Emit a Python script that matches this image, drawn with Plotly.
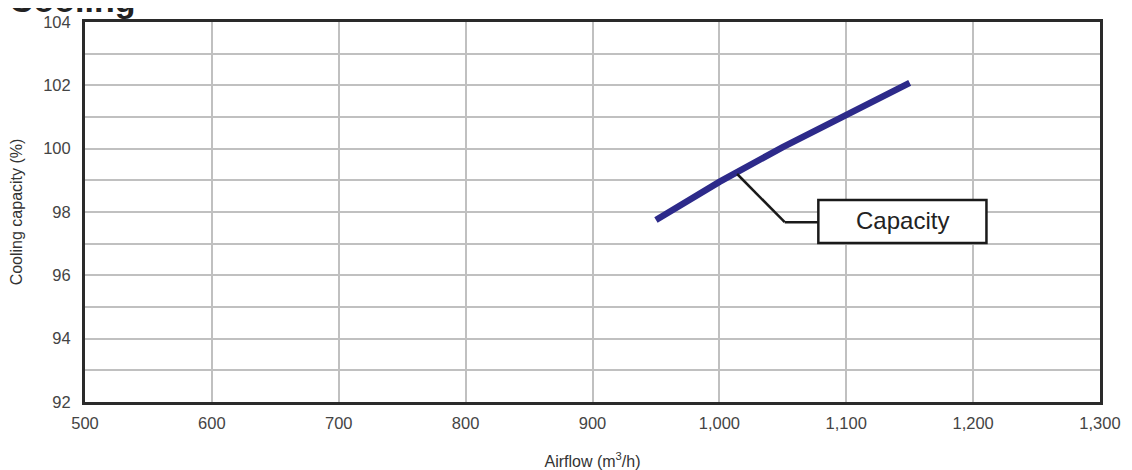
import plotly.graph_objects as go

# Data
airflow = [950, 1000, 1050, 1100, 1150]
capacity = [97.75, 98.95, 100.05, 101.08, 102.08]

x_ticks = [500, 600, 700, 800, 900, 1000, 1100, 1200, 1300]
y_ticks = [92, 94, 96, 98, 100, 102, 104]

series_label = "Capacity"
title_text = "Cooling"

FONT = "Liberation Sans, Arial, sans-serif"

fig = go.Figure()
fig.add_trace(go.Scatter(
    x=airflow, y=capacity, mode="lines",
    line=dict(color="#2d2a8a", width=6.5),
    showlegend=False, hoverinfo="skip",
))

# leader line from curve to label box
fig.add_shape(type="line", xref="x", yref="y", x0=1014, y0=99.2, x1=1051.5, y1=97.68,
              line=dict(color="#1a1a1a", width=2.5), layer="above")
fig.add_shape(type="line", xref="x", yref="y", x0=1051.5, y0=97.68, x1=1078, y1=97.68,
              line=dict(color="#1a1a1a", width=2.5), layer="above")
fig.add_shape(type="rect", xref="x", yref="y", x0=1078, y0=97.02, x1=1210.5, y1=98.38,
              line=dict(color="#1a1a1a", width=2.5), fillcolor="white", layer="above")
fig.add_annotation(x=1144, y=97.74, xref="x", yref="y", text=series_label, showarrow=False,
                   font=dict(family=FONT, size=24, color="#222"))

fig.add_annotation(x=-78 / 1015, y=1.057, xref="paper", yref="paper", text="<b>" + title_text + "</b>",
                   showarrow=False, xanchor="left", yanchor="middle",
                   font=dict(family=FONT, size=34, color="#222"))

fig.update_xaxes(
    range=[500, 1300], tickvals=x_ticks, tickformat=",", showgrid=True,
    gridcolor="#c0c0c0", gridwidth=1.8, zeroline=False, automargin=False,
    showline=True, linecolor="#2a2a2a", linewidth=3, mirror=True,
    ticks="", ticklabelstandoff=4, tickfont=dict(family=FONT, size=16.5, color="#444"),
    title=dict(text="Airflow (m<sup>3</sup>/h)", font=dict(family=FONT, size=16, color="#333"), standoff=26),
)
fig.update_yaxes(
    range=[92, 104], tickvals=y_ticks, showgrid=True,
    gridcolor="#c0c0c0", gridwidth=1.8, zeroline=False, automargin=False,
    minor=dict(dtick=1, showgrid=True, gridcolor="#c0c0c0", gridwidth=1.8),
    showline=True, linecolor="#2a2a2a", linewidth=3, mirror=True,
    ticks="", ticklabelstandoff=8,
    tickfont=dict(family=FONT, size=16.5, color="#444"),
    title=dict(text="Cooling capacity (%)", font=dict(family=FONT, size=16, color="#333"), standoff=18),
)

fig.update_layout(
    width=1124, height=462,
    margin=dict(l=77, r=32, t=14, b=68),
    plot_bgcolor="white", paper_bgcolor="white",
    font=dict(family=FONT),
)

fig.write_html("out.html")
